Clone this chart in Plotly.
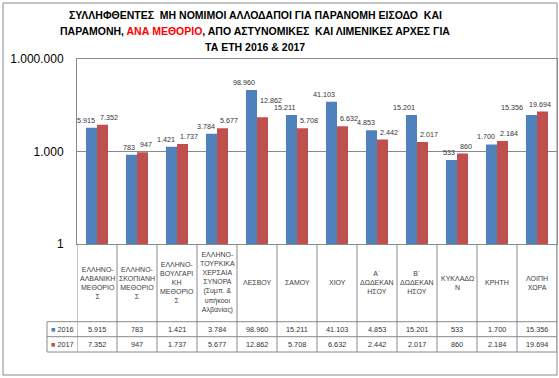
import plotly.graph_objects as go
import numpy as np

# ---------------- data ----------------
categories = [
    "ΕΛΛΗΝΟ-<br>ΑΛΒΑΝΙΚΗ<br>ΜΕΘΟΡΙΟ<br>Σ",
    "ΕΛΛΗΝΟ-<br>ΣΚΟΠΙΑΝΗ<br>ΜΕΘΟΡΙΟ<br>Σ",
    "ΕΛΛΗΝΟ-<br>ΒΟΥΛΓΑΡΙ<br>ΚΗ<br>ΜΕΘΟΡΙΟ<br>Σ",
    "ΕΛΛΗΝΟ-<br>ΤΟΥΡΚΙΚΑ<br>ΧΕΡΣΑΙΑ<br>ΣΥΝΟΡΑ<br>(Συμπ. &<br>υπήκοοι<br>Αλβανίας)",
    "ΛΕΣΒΟΥ",
    "ΣΑΜΟΥ",
    "ΧΙΟΥ",
    "Α΄<br>ΔΩΔΕΚΑΝ<br>ΗΣΟΥ",
    "Β΄<br>ΔΩΔΕΚΑΝ<br>ΗΣΟΥ",
    "ΚΥΚΛΑΔΩ<br>Ν",
    "ΚΡΗΤΗ",
    "ΛΟΙΠΗ<br>ΧΩΡΑ",
]
series_names = ["2016", "2017"]
v2016 = [5915, 783, 1421, 3784, 98960, 15211, 41103, 4853, 15201, 533, 1700, 15356]
v2017 = [7352, 947, 1737, 5677, 12862, 5708, 6632, 2442, 2017, 860, 2184, 19694]
tick_vals = [1, 1000, 1000000]
tick_text = ["1", "1.000", "1.000.000"]
title_lines = [
    "ΣΥΛΛΗΦΘΕΝΤΕΣ  ΜΗ ΝΟΜΙΜΟΙ ΑΛΛΟΔΑΠΟΙ ΓΙΑ ΠΑΡΑΝΟΜΗ ΕΙΣΟΔΟ  ΚΑΙ",
    "ΠΑΡΑΜΟΝΗ, <span style='color:#FF0000'>ΑΝΑ ΜΕΘΟΡΙΟ</span>, ΑΠΟ ΑΣΤΥΝΟΜΙΚΕΣ  ΚΑΙ ΛΙΜΕΝΙΚΕΣ ΑΡΧΕΣ ΓΙΑ",
    "ΤΑ ΕΤΗ 2016 & 2017",
]

# ---------------- layout geometry ----------------
W, H = 559, 378
L, R, T, B = 77, 2, 59, 134
PW, PH = W - L - R, H - T - B
FONT = "Liberation Sans, Arial, sans-serif"
BLUE, RED = "#4F81BD", "#C0504D"
LINE = "#8A8A8A"
TXT = "#333333"

# label placement tweaks (pixel shifts) where Excel moved labels to avoid clashes
label_nudge = {(0, 11): (-12, 0), (1, 11): (-4, 0), (1, 4): (0, 9)}


def py(y):
    return (H - B - y) / PH


def pxx(x):
    return (x - L) / PW


def fmt(v):
    return f"{v:,}".replace(",", ".")


xs = list(range(len(categories)))
last = xs[-1]
bw = 0.275

fig = go.Figure()
fig.add_trace(go.Bar(x=xs, y=v2016, offset=-bw, width=bw, marker_color=BLUE,
                     marker_line_width=0, name=series_names[0], hoverinfo="skip"))
fig.add_trace(go.Bar(x=xs, y=v2017, offset=0, width=bw, marker_color=RED,
                     marker_line_width=0, name=series_names[1], hoverinfo="skip"))

ann = []
# title
for i, (line, ypx) in enumerate(zip(title_lines, [15, 31, 46.5])):
    ann.append(dict(text=f"<b>{line}</b>", x=pxx(255), y=py(ypx), xref="paper", yref="paper",
                    xanchor="center", yanchor="middle", showarrow=False,
                    font=dict(family=FONT, size=10.5, color="#000000")))
# data labels
for s, vals in enumerate([v2016, v2017]):
    for i in xs:
        dx, dy = label_nudge.get((s, i), (0, 0))
        if s == 0:
            xa, xv, xsft = "right", i, 0
        elif i == last:
            xa, xv, xsft = "right", i + 0.5, 0
        else:
            xa, xv, xsft = "left", i, 1
        ann.append(dict(text=fmt(vals[i]), x=xv, y=np.log10(vals[i]), xref="x", yref="y",
                        xanchor=xa, yanchor="bottom", xshift=xsft + dx, yshift=1 + dy,
                        showarrow=False, font=dict(family=FONT, size=7.2, color=TXT)))
# table header
for i in xs:
    ann.append(dict(text=categories[i], x=i, y=py(282.5), xref="x", yref="paper",
                    xanchor="center", yanchor="middle", showarrow=False,
                    font=dict(family=FONT, size=7, color="#404040")))
# table values
for i in xs:
    ann.append(dict(text=fmt(v2016[i]), x=i, y=py(329), xref="x", yref="paper",
                    xanchor="center", yanchor="middle", showarrow=False,
                    font=dict(family=FONT, size=7.3, color=TXT)))
    ann.append(dict(text=fmt(v2017[i]), x=i, y=py(344), xref="x", yref="paper",
                    xanchor="center", yanchor="middle", showarrow=False,
                    font=dict(family=FONT, size=7.3, color=TXT)))
# legend keys in table
for name, col, ypx in [(series_names[0], BLUE, 329), (series_names[1], RED, 344)]:
    ann.append(dict(text=f"<span style='color:{col}'>■</span> {name}", x=pxx(49), y=py(ypx),
                    xref="paper", yref="paper", xanchor="left", yanchor="middle",
                    showarrow=False, font=dict(family=FONT, size=7.3, color=TXT)))

shapes = []
# table horizontal lines
for ypx in [321.7, 336.7, 352]:
    shapes.append(dict(type="line", xref="paper", yref="paper", x0=pxx(47), x1=1,
                       y0=py(ypx), y1=py(ypx), line=dict(color=LINE, width=1)))
# table vertical lines
for i in range(len(categories) + 1):
    shapes.append(dict(type="line", xref="x", yref="paper", x0=i - 0.5, x1=i - 0.5,
                       y0=0, y1=py(352), line=dict(color=LINE, width=1)))
shapes.append(dict(type="line", xref="paper", yref="paper", x0=pxx(47), x1=pxx(47),
                   y0=py(321.7), y1=py(352), line=dict(color=LINE, width=1)))
# outer chart border
shapes.append(dict(type="rect", xref="paper", yref="paper", x0=pxx(3), x1=pxx(557),
                   y0=py(375), y1=py(3), line=dict(color=LINE, width=1)))

fig.update_layout(
    width=W, height=H,
    margin=dict(l=L, r=R, t=T, b=B, pad=0),
    paper_bgcolor="white", plot_bgcolor="white",
    barmode="overlay", showlegend=False, hovermode=False,
    annotations=ann, shapes=shapes,
    font=dict(family=FONT, color="#000000"),
    xaxis=dict(range=[-0.5, len(categories) - 0.5], showticklabels=False, showgrid=False,
               zeroline=False, showline=True, mirror=True, linecolor=LINE, linewidth=1,
               ticks=""),
    yaxis=dict(type="log", range=[0, 6], tickvals=tick_vals, ticktext=tick_text,
               showgrid=True, gridcolor=LINE, gridwidth=1, zeroline=False,
               showline=True, mirror=True, linecolor=LINE, linewidth=1, ticks="",
               ticklabelstandoff=10, tickfont=dict(family=FONT, size=12, color="#000000")),
)

fig.write_html("out.html", config={"displayModeBar": False},
               post_script="document.body.style.margin='0px';")
